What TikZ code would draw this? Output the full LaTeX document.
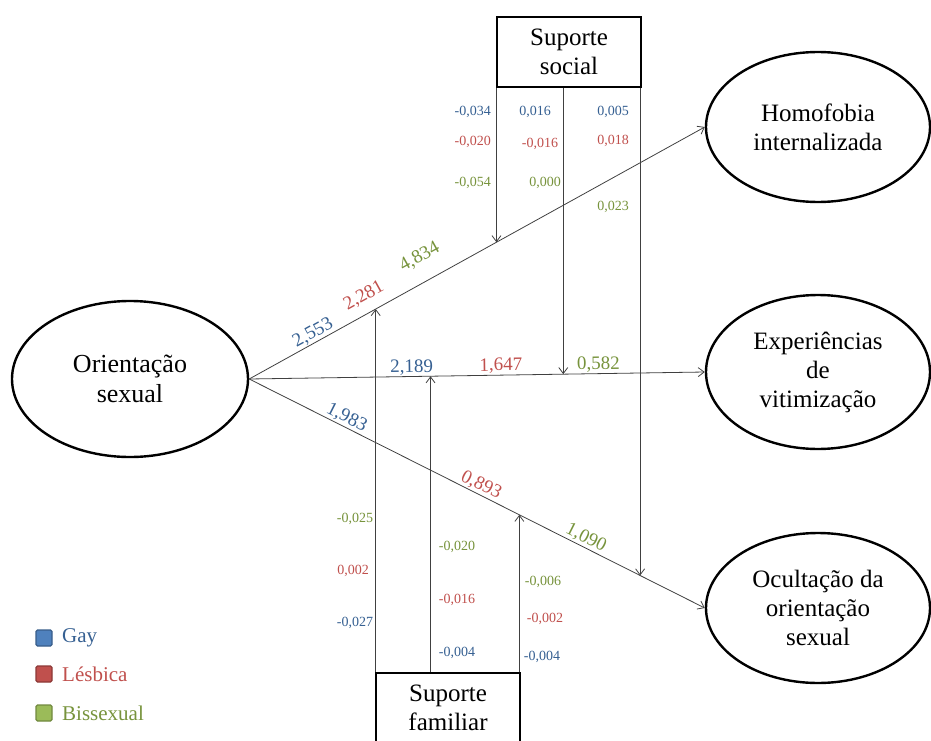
\documentclass[tikz,border=0pt]{standalone}
\usepackage{fontspec}
\setmainfont{Liberation Serif}
\usetikzlibrary{shapes.geometric,arrows.meta}
\definecolor{gayblue}{RGB}{54,96,146}
\definecolor{lesred}{RGB}{192,80,77}
\definecolor{bigreen}{RGB}{119,147,60}
\tikzset{
  latent/.style={ellipse, draw, line width=2.4pt, inner sep=0pt, align=center,
    font=\fontsize{25}{29}\selectfont},
  modbox/.style={rectangle, draw, line width=2.6pt, minimum width=144pt,
    minimum height=70pt, inner sep=0pt, align=center, font=\fontsize{25}{29}\selectfont},
  effect/.style={draw=black!75, line width=0.8pt, -{Straight Barb[length=6pt,width=9pt]}},
  coef/.style={font=\fontsize{19}{19}\selectfont, sloped, above, inner sep=1pt},
  modval/.style={font=\fontsize{14}{14}\selectfont, inner sep=0pt},
  legsq/.style={rectangle, rounded corners=1.5pt, line width=1.2pt,
    minimum size=16pt, inner sep=0pt},
  legtxt/.style={anchor=west, inner sep=0pt, font=\fontsize{21}{21}\selectfont}
}
\begin{document}
\begin{tikzpicture}[x=1pt, y=-1pt]
\useasboundingbox (0,0) rectangle (931,741);

\node[latent, minimum width=236pt, minimum height=156pt, font=\fontsize{26}{30}\selectfont]
  (orient) at (130,379) {Orientação\\sexual};
\node[latent, minimum width=224pt, minimum height=150pt] (homo) at (818,127) {Homofobia\\internalizada};
\node[latent, minimum width=224pt, minimum height=154pt] (vitim) at (818,372) {Experiências\\de\\vitimização};
\node[latent, minimum width=224pt, minimum height=150pt] (ocult) at (818,608) {Ocultação da\\orientação\\sexual};

\node[modbox] (social) at (569,52) {Suporte\\social};
\node[modbox] (familiar) at (448,708) {Suporte\\familiar};

% direct effects
\draw[effect] (orient.east) -- (homo.west)
  coordinate[pos=0.2777] (hf) coordinate[pos=0.5427] (hs)
  node[coef, pos=0.15, text=gayblue] {2,553}
  node[coef, pos=0.27, text=lesred, yshift=8pt] {2,281}
  node[coef, pos=0.40, text=bigreen, yshift=15pt] {4,834};
\draw[effect] (orient.east) -- (vitim.west)
  coordinate[pos=0.398] (vf) coordinate[pos=0.6894] (vs)
  node[coef, pos=0.357, text=gayblue] {2,189}
  node[coef, pos=0.553, text=lesred] {1,647}
  node[coef, pos=0.767, text=bigreen] {0,582};
\draw[effect] (orient.east) -- (ocult.west)
  coordinate[pos=0.593] (of) coordinate[pos=0.858] (os)
  node[coef, pos=0.205, text=gayblue] {1,983}
  node[coef, pos=0.50, text=lesred] {0,893}
  node[coef, pos=0.73, text=bigreen] {1,090};

% moderators
\draw[effect] (hs |- social.south) -- (hs);
\draw[effect] (vs |- social.south) -- (vs);
\draw[effect] (os |- social.south) -- (os);
\draw[effect] (hf |- familiar.north) -- (hf);
\draw[effect] (vf |- familiar.north) -- (vf);
\draw[effect] (of |- familiar.north) -- (of);

% suporte social
\node[modval, anchor=east, text=gayblue] (s1) at (491,112) {-0,034};
\node[modval, anchor=east, text=lesred] (s2) at (491,142) {-0,020};
\node[modval, anchor=east, text=bigreen] (s3) at (491,183) {-0,054};
\node[modval, text=gayblue] (s4) at (535,112) {0,016};
\node[modval, text=lesred] (s5) at (540,144) {-0,016};
\node[modval, text=bigreen] (s6) at (545,183) {0,000};
\node[modval, text=gayblue] (s7) at (613,112) {0,005};
\node[modval, text=lesred] (s8) at (613,141) {0,018};
\node[modval, text=bigreen] (s9) at (613,207) {0,023};

% suporte familiar
\node[modval, text=bigreen] (f1) at (355,519) {-0,025};
\node[modval, text=lesred] (f2) at (353,571) {0,002};
\node[modval, text=gayblue] (f3) at (355,623) {-0,027};
\node[modval, text=bigreen] (f4) at (457,547) {-0,020};
\node[modval, text=lesred] (f5) at (457,600) {-0,016};
\node[modval, text=gayblue] (f6) at (457,653) {-0,004};
\node[modval, text=bigreen] (f7) at (543,582) {-0,006};
\node[modval, text=lesred] (f8) at (545,619) {-0,002};
\node[modval, text=gayblue] (f9) at (542,657) {-0,004};

% legenda
\node[legsq, fill={rgb,255:red,79;green,129;blue,189}, draw={rgb,255:red,56;green,93;blue,138}] (lg1) at (44,638) {};
\node[legsq, fill={rgb,255:red,192;green,80;blue,77}, draw={rgb,255:red,140;green,56;blue,54}] (lg2) at (44,674) {};
\node[legsq, fill={rgb,255:red,155;green,187;blue,89}, draw={rgb,255:red,113;green,137;blue,63}] (lg3) at (44,713) {};
\node[legtxt, text=gayblue] (lt1) at (62,638) {Gay};
\node[legtxt, text=lesred] (lt2) at (62,674) {Lésbica};
\node[legtxt, text=bigreen] (lt3) at (62,713) {Bissexual};
\end{tikzpicture}
\end{document}
